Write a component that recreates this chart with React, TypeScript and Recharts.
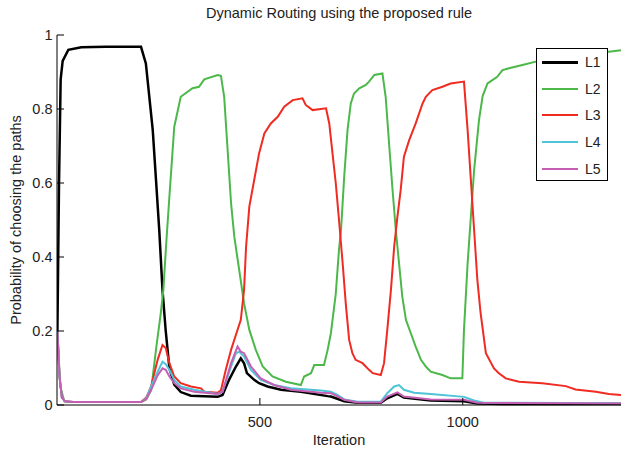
import React from "react";
import { LineChart, Line, XAxis, YAxis, Legend } from "recharts";

// values
const l1Iter = [1, 5, 9, 14, 28, 60, 120, 207, 219, 236, 244, 252, 260, 268, 277, 289, 305, 330, 396, 408, 424, 441, 453, 461, 468, 486, 498, 519, 552, 601, 667, 675, 708, 741, 798, 814, 839, 855, 921, 1003, 1036, 1100, 1390];
const l1Prob = [0.2, 0.6, 0.88, 0.93, 0.96, 0.967, 0.968, 0.968, 0.923, 0.743, 0.608, 0.473, 0.311, 0.2, 0.1, 0.055, 0.035, 0.025, 0.022, 0.027, 0.068, 0.104, 0.126, 0.113, 0.086, 0.068, 0.059, 0.05, 0.041, 0.036, 0.024, 0.023, 0.01, 0.006, 0.006, 0.018, 0.03, 0.02, 0.012, 0.01, 0.004, 0.003, 0.003];

const l2Iter = [1, 8, 18, 30, 207, 220, 232, 244, 256, 262, 270, 277, 289, 305, 334, 350, 363, 396, 404, 412, 420, 429, 437, 449, 461, 474, 490, 507, 531, 564, 601, 609, 626, 634, 658, 667, 675, 687, 695, 700, 708, 716, 724, 732, 745, 761, 769, 782, 802, 810, 819, 827, 835, 843, 851, 860, 872, 884, 897, 909, 921, 950, 970, 999, 1003, 1012, 1020, 1028, 1040, 1049, 1061, 1073, 1085, 1098, 1114, 1147, 1180, 1250, 1300, 1360, 1390];
const l2Prob = [0.2, 0.05, 0.01, 0.008, 0.008, 0.015, 0.04, 0.15, 0.25, 0.31, 0.45, 0.563, 0.752, 0.833, 0.856, 0.86, 0.88, 0.892, 0.89, 0.833, 0.698, 0.545, 0.455, 0.365, 0.275, 0.203, 0.149, 0.104, 0.077, 0.063, 0.054, 0.077, 0.086, 0.108, 0.108, 0.149, 0.194, 0.3, 0.42, 0.473, 0.62, 0.743, 0.815, 0.842, 0.856, 0.865, 0.874, 0.892, 0.896, 0.833, 0.698, 0.581, 0.473, 0.383, 0.293, 0.23, 0.194, 0.158, 0.122, 0.104, 0.09, 0.081, 0.072, 0.072, 0.203, 0.383, 0.509, 0.635, 0.77, 0.835, 0.869, 0.878, 0.887, 0.905, 0.91, 0.919, 0.928, 0.94, 0.948, 0.955, 0.959];

const l3Iter = [1, 6, 12, 20, 40, 207, 220, 232, 248, 260, 268, 277, 289, 305, 330, 355, 363, 396, 404, 416, 429, 441, 453, 461, 466, 474, 486, 498, 511, 527, 544, 560, 581, 605, 613, 630, 663, 671, 679, 687, 695, 704, 712, 720, 728, 736, 753, 769, 778, 798, 806, 814, 823, 831, 839, 847, 855, 868, 884, 901, 909, 925, 950, 970, 1003, 1012, 1020, 1028, 1036, 1044, 1057, 1077, 1089, 1106, 1139, 1196, 1254, 1278, 1328, 1360, 1390];
const l3Prob = [0.2, 0.08, 0.02, 0.01, 0.008, 0.008, 0.02, 0.05, 0.122, 0.162, 0.154, 0.113, 0.077, 0.059, 0.05, 0.045, 0.036, 0.033, 0.04, 0.095, 0.149, 0.19, 0.23, 0.311, 0.428, 0.536, 0.608, 0.68, 0.734, 0.761, 0.779, 0.806, 0.824, 0.829, 0.811, 0.797, 0.802, 0.761, 0.68, 0.6, 0.5, 0.383, 0.27, 0.176, 0.14, 0.122, 0.113, 0.095, 0.086, 0.081, 0.113, 0.203, 0.311, 0.428, 0.509, 0.581, 0.671, 0.716, 0.761, 0.815, 0.833, 0.851, 0.86, 0.869, 0.874, 0.743, 0.608, 0.473, 0.338, 0.248, 0.14, 0.099, 0.086, 0.072, 0.063, 0.059, 0.051, 0.042, 0.036, 0.03, 0.027];

const l4Iter = [1, 6, 12, 20, 40, 207, 220, 232, 248, 260, 268, 277, 289, 305, 338, 396, 408, 429, 441, 449, 461, 478, 502, 535, 576, 650, 675, 690, 708, 741, 798, 814, 831, 843, 855, 880, 921, 1003, 1028, 1052, 1390];
const l4Prob = [0.2, 0.08, 0.02, 0.01, 0.008, 0.008, 0.018, 0.05, 0.09, 0.117, 0.11, 0.095, 0.068, 0.05, 0.041, 0.03, 0.036, 0.104, 0.14, 0.144, 0.131, 0.095, 0.068, 0.054, 0.045, 0.039, 0.036, 0.028, 0.015, 0.009, 0.009, 0.032, 0.05, 0.054, 0.041, 0.033, 0.03, 0.022, 0.012, 0.006, 0.005];

const l5Iter = [1, 6, 12, 20, 40, 207, 220, 232, 248, 260, 268, 277, 289, 305, 338, 396, 408, 429, 445, 453, 461, 478, 502, 535, 576, 650, 675, 690, 708, 741, 798, 814, 839, 855, 921, 1003, 1036, 1390];
const l5Prob = [0.2, 0.08, 0.02, 0.01, 0.008, 0.008, 0.016, 0.041, 0.08, 0.099, 0.095, 0.077, 0.059, 0.045, 0.036, 0.03, 0.036, 0.113, 0.158, 0.144, 0.14, 0.104, 0.072, 0.054, 0.041, 0.033, 0.032, 0.024, 0.014, 0.007, 0.007, 0.023, 0.034, 0.023, 0.015, 0.014, 0.006, 0.004];

const seriesNames = ["L1", "L2", "L3", "L4", "L5"];
const seriesColors = ["#000000", "#4cb84a", "#ef2b22", "#4fc4d9", "#c55fb3"];
const seriesWidths = [2.5, 2, 2, 2, 2];

const xTicks = [500, 1000];
const yTicks = [0, 0.2, 0.4, 0.6, 0.8, 1];

const toPoints = (iter: number[], prob: number[]) =>
  iter.map((x, i) => ({ x, y: prob[i] }));

const series = [
  toPoints(l1Iter, l1Prob),
  toPoints(l2Iter, l2Prob),
  toPoints(l3Iter, l3Prob),
  toPoints(l4Iter, l4Prob),
  toPoints(l5Iter, l5Prob),
];

const font = '"Liberation Sans", Arial, Helvetica, sans-serif';
const textColor = "#222";
const tickLen = 7;

// all ticks point into the plot box, like the matlab-style original
const BottomTick = ({ x, y, payload }: any) => (
  <g>
    <line x1={x} x2={x} y1={y} y2={y - tickLen} stroke="#000" />
    <text x={x} y={y + 22} textAnchor="middle" fontSize={14.5} fill={textColor} fontFamily={font}>
      {payload.value}
    </text>
  </g>
);

const TopTick = ({ x, y }: any) => (
  <line x1={x} x2={x} y1={y} y2={y + tickLen} stroke="#000" />
);

const LeftTick = ({ x, y, payload }: any) => (
  <g>
    <line x1={x} x2={x + tickLen} y1={y} y2={y} stroke="#000" />
    <text x={x - 4.5} y={y + 5} textAnchor="end" fontSize={14.5} fill={textColor} fontFamily={font}>
      {payload.value}
    </text>
  </g>
);

const RightTick = ({ x, y }: any) => (
  <line x1={x} x2={x - tickLen} y1={y} y2={y} stroke="#000" />
);

const renderLegend = () => (
  <div
    style={{
      width: 72,
      height: 133,
      boxSizing: "border-box",
      border: "1px solid #000",
      background: "#fff",
      fontFamily: font,
      fontSize: 14,
      color: textColor,
    }}
  >
    {seriesNames.map((name, i) => (
      <div key={name} style={{ height: 26.6, display: "flex", alignItems: "center" }}>
        <span
          style={{
            display: "inline-block",
            marginLeft: 5,
            width: 36,
            height: 0,
            borderTop: `${seriesWidths[i] + 0.5}px solid ${seriesColors[i]}`,
          }}
        />
        <span style={{ marginLeft: 7 }}>{name}</span>
      </div>
    ))}
  </div>
);

export default function App() {
  return (
    <div style={{ position: "absolute", left: 0, top: 0, width: 621, height: 449, background: "#fff" }}>
      <div
        style={{
          position: "absolute",
          left: 57,
          width: 564,
          top: 5,
          textAlign: "center",
          fontFamily: font,
          fontSize: 14.5,
          color: textColor,
          zIndex: 2,
        }}
      >
        Dynamic Routing using the proposed rule
      </div>
      <LineChart width={621} height={449} margin={{ top: 35, right: 0, bottom: 0, left: 0 }}>
        <XAxis
          dataKey="x"
          type="number"
          domain={[0, 1390]}
          allowDataOverflow
          ticks={xTicks}
          height={44}
          tickSize={0}
          tickMargin={0}
          tickLine={false}
          tick={BottomTick}
          axisLine={{ stroke: "#000" }}
          label={{
            value: "Iteration",
            position: "insideBottom",
            offset: 4,
            fontSize: 14.5,
            fill: textColor,
            fontFamily: font,
          }}
        />
        <XAxis
          xAxisId="top"
          orientation="top"
          dataKey="x"
          type="number"
          domain={[0, 1390]}
          allowDataOverflow
          ticks={xTicks}
          height={0}
          tickSize={0}
          tickMargin={0}
          tickLine={false}
          tick={TopTick}
          axisLine={{ stroke: "#000" }}
        />
        <YAxis
          type="number"
          domain={[0, 1]}
          ticks={yTicks}
          width={57}
          tickSize={0}
          tickMargin={0}
          tickLine={false}
          tick={LeftTick}
          axisLine={{ stroke: "#000" }}
          label={{
            value: "Probability of choosing the paths",
            angle: -90,
            position: "center",
            dx: -12.5,
            fontSize: 14.5,
            fill: textColor,
            fontFamily: font,
          }}
        />
        <YAxis
          yAxisId="right"
          orientation="right"
          type="number"
          domain={[0, 1]}
          ticks={yTicks}
          width={0}
          tickSize={0}
          tickMargin={0}
          tickLine={false}
          tick={RightTick}
          axisLine={{ stroke: "#000" }}
        />
        {series.map((pts, i) => (
          <Line
            key={seriesNames[i]}
            data={pts}
            dataKey="y"
            name={seriesNames[i]}
            type="linear"
            stroke={seriesColors[i]}
            strokeWidth={seriesWidths[i]}
            dot={false}
            activeDot={false}
            isAnimationActive={false}
          />
        ))}
        <Legend
          layout="vertical"
          align="center"
          verticalAlign="middle"
          wrapperStyle={{ position: "absolute", left: 536, top: 48, width: 72, height: 133 }}
          content={renderLegend}
        />
      </LineChart>
    </div>
  );
}
